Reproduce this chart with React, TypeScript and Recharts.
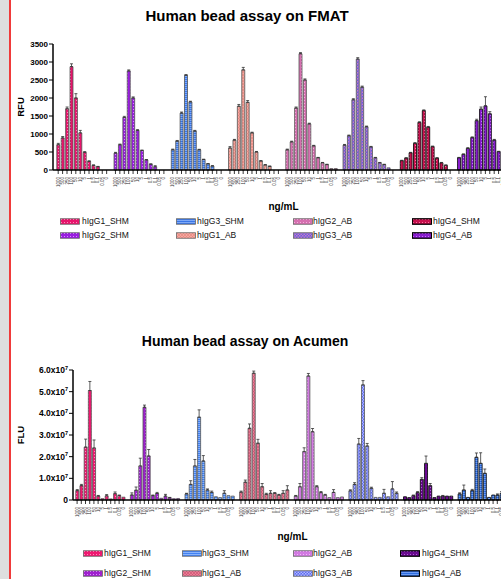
import { BarChart, Bar, XAxis, YAxis, Cell, ErrorBar } from "recharts";

// serial dilution labels under every bar (ng/mL)
const DOSES = ["1000", "500", "250", "100", "50", "10", "5", "1", "0.5", "0.1", "0.05", "0"];
const SERIES = ["hIgG1_SHM", "hIgG2_SHM", "hIgG3_SHM", "hIgG1_AB", "hIgG2_AB", "hIgG3_AB", "hIgG4_SHM", "hIgG4_AB"];
const LEGEND_ORDER = [0, 2, 4, 6, 1, 3, 5, 7];

// FMAT, RFU
const fmatIgG1Shm = [700, 890, 1700, 2870, 2000, 1030, 490, 240, 130, 90, 0, 0];
const fmatIgG2Shm = [470, 700, 1460, 2750, 2000, 1100, 540, 280, 160, 90, 0, 0];
const fmatIgG3Shm = [560, 800, 1580, 2630, 1890, 1080, 560, 290, 170, 110, 0, 0];
const fmatIgG1Ab = [610, 830, 1770, 2780, 1880, 1030, 500, 250, 140, 100, 0, 0];
const fmatIgG2Ab = [560, 780, 1720, 3230, 2500, 1280, 670, 340, 200, 150, 40, 40];
const fmatIgG3Ab = [690, 950, 1950, 3080, 2300, 1200, 640, 340, 200, 150, 60, 0];
const fmatIgG4Shm = [260, 330, 480, 740, 1320, 1650, 1190, 650, 330, 200, 130, 0];
const fmatIgG4Ab = [340, 435, 600, 900, 1370, 1690, 1780, 1560, 830, 510, 230, 130];

const fmatErrIgG1Shm = [40, 40, 50, 80, 120, 70, 20, 15, 10, 10, 0, 0];
const fmatErrIgG2Shm = [20, 20, 30, 30, 30, 20, 15, 10, 10, 30, 0, 0];
const fmatErrIgG3Shm = [20, 20, 30, 20, 20, 20, 15, 10, 10, 10, 0, 0];
const fmatErrIgG1Ab = [40, 20, 50, 70, 50, 20, 15, 10, 10, 10, 0, 0];
const fmatErrIgG2Ab = [20, 20, 30, 30, 30, 20, 15, 10, 10, 10, 0, 0];
const fmatErrIgG3Ab = [20, 20, 30, 40, 30, 20, 15, 10, 10, 10, 0, 0];
const fmatErrIgG4Shm = [10, 10, 10, 20, 20, 20, 20, 15, 10, 10, 10, 0];
const fmatErrIgG4Ab = [10, 10, 20, 20, 40, 60, 255, 60, 20, 10, 10, 10];

// Acumen, FLU in millions
const acuIgG1Shm = [4.3, 6.6, 24.4, 50.5, 24.0, 1.8, 0.6, 1.9, 0.5, 2.9, 2.0, 1.3];
const acuIgG2Shm = [2.3, 4.5, 15.7, 42.8, 20.3, 2.0, 3.0, 0.8, 1.8, 1.0, 0.6, 0.7];
const acuIgG3Shm = [2.8, 7.2, 15.7, 38.2, 18.0, 4.6, 3.5, 1.5, 1.1, 3.1, 2.0, 1.8];
const acuIgG1Ab = [3.6, 8.2, 33.1, 58.5, 26.2, 6.1, 2.6, 3.1, 3.1, 2.3, 3.1, 4.6];
const acuIgG2Ab = [1.8, 6.1, 22.3, 57.2, 31.5, 6.1, 3.4, 2.3, 1.1, 3.5, 1.1, 1.4];
const acuIgG3Ab = [4.2, 7.2, 25.8, 53.1, 24.9, 5.4, 1.2, 1.2, 3.1, 1.5, 5.1, 3.1];
const acuIgG4Shm = [1.5, 1.1, 2.0, 3.4, 9.5, 16.9, 6.6, 1.1, 1.8, 1.8, 1.8, 1.8];
const acuIgG4Ab = [2.8, 4.6, 1.2, 4.3, 19.7, 16.9, 12.3, 1.2, 2.3, 2.3, 3.1, 3.0];

const acuErrIgG1Shm = [0.5, 0.6, 3.7, 4.2, 3.7, 0.3, 0, 0.6, 0, 0.8, 0.3, 0];
const acuErrIgG2Shm = [1.0, 1.5, 3.6, 1.0, 3.0, 0.3, 0.5, 0, 0.8, 0.2, 0, 0];
const acuErrIgG3Shm = [0.3, 1.7, 3.0, 3.4, 2.5, 0.5, 0.6, 0, 0, 1.2, 0, 0];
const acuErrIgG1Ab = [0.5, 1.0, 2.0, 1.0, 1.8, 1.5, 0.5, 1.2, 0.3, 0.3, 1.2, 2.0];
const acuErrIgG2Ab = [0.3, 1.5, 1.8, 1.2, 1.5, 0.5, 0.5, 0.3, 0, 1.3, 0, 0];
const acuErrIgG3Ab = [0.5, 0.8, 2.6, 2.0, 1.2, 0.5, 0, 0, 1.8, 0, 3.4, 0.6];
const acuErrIgG4Shm = [0, 0, 0.3, 0.5, 0.8, 3.4, 1.0, 0, 0, 0.3, 0, 0];
const acuErrIgG4Ab = [0.5, 2.3, 0, 0.6, 2.0, 4.9, 2.0, 0, 0, 0.5, 0.8, 0];

const FMAT_TICKS = [0, 500, 1000, 1500, 2000, 2500, 3000, 3500];
const ACU_TICKS = [0, 1e7, 2e7, 3e7, 4e7, 5e7, 6e7];

const FONT = "Arial, 'Liberation Sans', sans-serif";

// fill styles per series (same order as SERIES)
const FMAT_STYLE = [
  { bg: "#e8146c", fg: "#ff86b8", kind: "dots" },
  { bg: "#9a1ee0", fg: "#d890ff", kind: "dots" },
  { bg: "#3a76e6", fg: "#9cc0ff", kind: "hlines" },
  { bg: "#f6a8a0", fg: "#e4837a", kind: "cross" },
  { bg: "#d670b0", fg: "#f4b0dc", kind: "dots" },
  { bg: "#6462e0", fg: "#c878c8", kind: "check" },
  { bg: "#c8124f", fg: "#ff70a0", kind: "dots" },
  { bg: "#8a1ed0", fg: "#c878ff", kind: "dots" },
];
const ACU_STYLE = [
  { bg: "#f01870", fg: "#ff88b8", kind: "dots" },
  { bg: "#a020d0", fg: "#d890ff", kind: "dots" },
  { bg: "#4282f2", fg: "#a8c8ff", kind: "hlines" },
  { bg: "#ec7c94", fg: "#c85070", kind: "cross" },
  { bg: "#d27ae2", fg: "#f0b8f8", kind: "dots" },
  { bg: "#5e6cf0", fg: "#b0b8ff", kind: "check" },
  { bg: "#6a0a90", fg: "#b060d8", kind: "dots" },
  { bg: "#2e6ee0", fg: "#88b0ff", kind: "hlines" },
];

type Row = { key: string; series: number; v: number | null; err?: number[] };

function buildRows(values: number[][], errors: number[][], scale: number): Row[] {
  const rows: Row[] = [];
  values.forEach((vals, g) => {
    vals.forEach((v, i) => {
      const e = errors[g][i];
      rows.push({ key: `${g}-${i}`, series: g, v: v * scale, err: e > 0 ? [0, e * scale] : undefined });
    });
    rows.push({ key: `gap-${g}`, series: -1, v: null });
  });
  return rows;
}

const fmatRows = buildRows(
  [fmatIgG1Shm, fmatIgG2Shm, fmatIgG3Shm, fmatIgG1Ab, fmatIgG2Ab, fmatIgG3Ab, fmatIgG4Shm, fmatIgG4Ab],
  [fmatErrIgG1Shm, fmatErrIgG2Shm, fmatErrIgG3Shm, fmatErrIgG1Ab, fmatErrIgG2Ab, fmatErrIgG3Ab, fmatErrIgG4Shm, fmatErrIgG4Ab],
  1
);
const acuRows = buildRows(
  [acuIgG1Shm, acuIgG2Shm, acuIgG3Shm, acuIgG1Ab, acuIgG2Ab, acuIgG3Ab, acuIgG4Shm, acuIgG4Ab],
  [acuErrIgG1Shm, acuErrIgG2Shm, acuErrIgG3Shm, acuErrIgG1Ab, acuErrIgG2Ab, acuErrIgG3Ab, acuErrIgG4Shm, acuErrIgG4Ab],
  1e6
);

function Pattern({ id, bg, fg, kind }: any) {
  const w = kind === "hlines" ? 4 : 3;
  const h = kind === "hlines" ? 2 : 3;
  return (
    <pattern id={id} width={w} height={h} patternUnits="userSpaceOnUse">
      <rect width={4} height={4} fill={bg} />
      {kind === "dots" && <rect x={1} y={1} width={1} height={1} fill={fg} />}
      {kind === "hlines" && <rect x={0} y={0} width={4} height={0.7} fill={fg} />}
      {kind === "cross" && <path d="M0 0L3 3M3 0L0 3" stroke={fg} strokeWidth={0.6} />}
      {kind === "check" && (
        <>
          <rect x={0} y={0} width={1.5} height={1.5} fill={fg} />
          <rect x={1.5} y={1.5} width={1.5} height={1.5} fill={fg} />
        </>
      )}
    </pattern>
  );
}

const strokeFor = (g: number) => (g >= 6 ? "#000" : "#555");

function DoseTick({ x, y, payload }: any) {
  const key = String(payload.value);
  if (key.startsWith("gap")) return <g />;
  const dose = DOSES[Number(key.split("-")[1])];
  return (
    <g>
      <line x1={x} x2={x} y1={y - 7} y2={y - 3} stroke="#000" strokeWidth={0.8} />
      <text
        transform={`translate(${x + 1.6},${y}) rotate(-90)`}
        textAnchor="end"
        fontSize={4.5}
        fill="#333"
        fontFamily={FONT}
      >
        {dose}
      </text>
    </g>
  );
}

function SciTick({ x, y, payload }: any) {
  const v = payload.value;
  const common = { x, y, dy: 3, textAnchor: "end" as const, fontSize: 8.5, fontWeight: 700, fill: "#000", fontFamily: FONT };
  if (v === 0) return <text {...common}>0</text>;
  return (
    <text {...common}>
      {(v / 1e7).toFixed(1)}x10
      <tspan dy={-3.5} fontSize={5.5}>7</tspan>
    </text>
  );
}

function LegendBlock({ prefix, rows, swatchX, textX }: any) {
  return (
    <>
      {LEGEND_ORDER.map((s, idx) => {
        const r = Math.floor(idx / 4);
        const c = idx % 4;
        return (
          <div key={s} style={{ position: "absolute", top: rows[r] - 5, left: swatchX[c], height: 10, display: "flex", alignItems: "center" }}>
            <svg width={20} height={7} style={{ display: "block" }}>
              <rect x={0.5} y={0.75} width={19} height={5.5} fill={`url(#${prefix}-${s})`} stroke={s >= 6 ? "#000" : "#666"} strokeWidth={s >= 6 ? 1.2 : 0.8} />
            </svg>
            <span style={{ position: "absolute", left: textX[c] - swatchX[c], fontSize: 8.5, color: "#111", whiteSpace: "nowrap", lineHeight: "10px" }}>
              {SERIES[s]}
            </span>
          </div>
        );
      })}
    </>
  );
}

export default function App() {
  return (
    <div style={{ position: "absolute", top: 0, left: 0, width: 501, height: 579, overflow: "hidden", background: "#fff", fontFamily: FONT }}>
      {/* FMAT */}
      <div style={{ position: "absolute", top: 8, left: 0, width: 494, textAlign: "center", fontSize: 15, lineHeight: "15px", fontWeight: 700 }}>
        Human bead assay on FMAT
      </div>
      <div style={{ position: "absolute", top: 0, left: 0 }}>
        <BarChart width={514} height={215} data={fmatRows} margin={{ top: 44, right: 0, bottom: 15, left: 0 }} barCategoryGap="18%">
          <defs>
            {FMAT_STYLE.map((st, i) => (
              <Pattern key={i} id={`fmat-${i}`} {...st} />
            ))}
          </defs>
          <XAxis
            dataKey="key"
            interval={0}
            tick={<DoseTick />}
            tickLine={false}
            tickSize={4}
            tickMargin={3}
            height={30}
            padding={{ left: 3, right: 0 }}
            axisLine={{ stroke: "#000", strokeWidth: 1.5 }}
            label={{ value: "ng/mL", position: "bottom", offset: 3, fill: "#000", fontSize: 10, fontWeight: 700, fontFamily: FONT }}
          />
          <YAxis
            width={53}
            domain={[0, 3500]}
            ticks={FMAT_TICKS}
            interval={0}
            tick={{ fontSize: 8, fontWeight: 700, fill: "#000", fontFamily: FONT }}
            tickSize={4}
            tickMargin={1}
            tickLine={{ stroke: "#000", strokeWidth: 1 }}
            axisLine={{ stroke: "#000", strokeWidth: 1.5 }}
            label={{ value: "RFU", angle: -90, position: "center", dx: -6, fill: "#000", fontSize: 9.5, fontWeight: 700, fontFamily: FONT }}
          />
          <Bar dataKey="v" isAnimationActive={false}>
            {fmatRows.map((r) => (
              <Cell key={r.key} fill={`url(#fmat-${Math.max(r.series, 0)})`} stroke={strokeFor(r.series)} strokeWidth={0.8} />
            ))}
            <ErrorBar dataKey="err" width={1.5} stroke="#333" strokeWidth={0.8} direction="y" />
          </Bar>
        </BarChart>
      </div>
      <LegendBlock prefix="fmat" rows={[221, 235]} swatchX={[60, 176, 293, 412]} textX={[82, 197, 313, 433]} />

      {/* Acumen */}
      <div style={{ position: "absolute", top: 334, left: 0, width: 490, textAlign: "center", fontSize: 14, lineHeight: "14px", fontWeight: 700 }}>
        Human bead assay on Acumen
      </div>
      <div style={{ position: "absolute", top: 330, left: 0 }}>
        <BarChart width={512} height={215} data={acuRows} margin={{ top: 40, right: 0, bottom: 15, left: 0 }} barCategoryGap="18%">
          <defs>
            {ACU_STYLE.map((st, i) => (
              <Pattern key={i} id={`acu-${i}`} {...st} />
            ))}
          </defs>
          <XAxis
            dataKey="key"
            interval={0}
            tick={<DoseTick />}
            tickLine={false}
            tickSize={4}
            tickMargin={3}
            height={30}
            padding={{ left: 2, right: 0 }}
            axisLine={{ stroke: "#000", strokeWidth: 1.5 }}
            label={{ value: "ng/mL", position: "bottom", offset: 3, fill: "#000", fontSize: 10, fontWeight: 700, fontFamily: FONT }}
          />
          <YAxis
            width={73}
            domain={[0, 6e7]}
            ticks={ACU_TICKS}
            interval={0}
            tick={<SciTick />}
            tickSize={4}
            tickMargin={1}
            tickLine={{ stroke: "#000", strokeWidth: 1 }}
            axisLine={{ stroke: "#000", strokeWidth: 1.5 }}
            label={{ value: "FLU", angle: -90, position: "center", dx: -16, fill: "#000", fontSize: 9.5, fontWeight: 700, fontFamily: FONT }}
          />
          <Bar dataKey="v" isAnimationActive={false}>
            {acuRows.map((r) => (
              <Cell key={r.key} fill={`url(#acu-${Math.max(r.series, 0)})`} stroke={strokeFor(r.series)} strokeWidth={0.8} />
            ))}
            <ErrorBar dataKey="err" width={1.5} stroke="#333" strokeWidth={0.8} direction="y" />
          </Bar>
        </BarChart>
      </div>
      <LegendBlock prefix="acu" rows={[553, 573]} swatchX={[83, 182, 293, 400]} textX={[104, 202, 313, 422]} />

      {/* page edge */}
      <div style={{ position: "absolute", top: 0, left: 0, width: 9, height: 579, background: "#dedede" }} />
      <div style={{ position: "absolute", top: 0, left: 9, width: 2, height: 579, background: "#f03a3a" }} />
    </div>
  );
}
